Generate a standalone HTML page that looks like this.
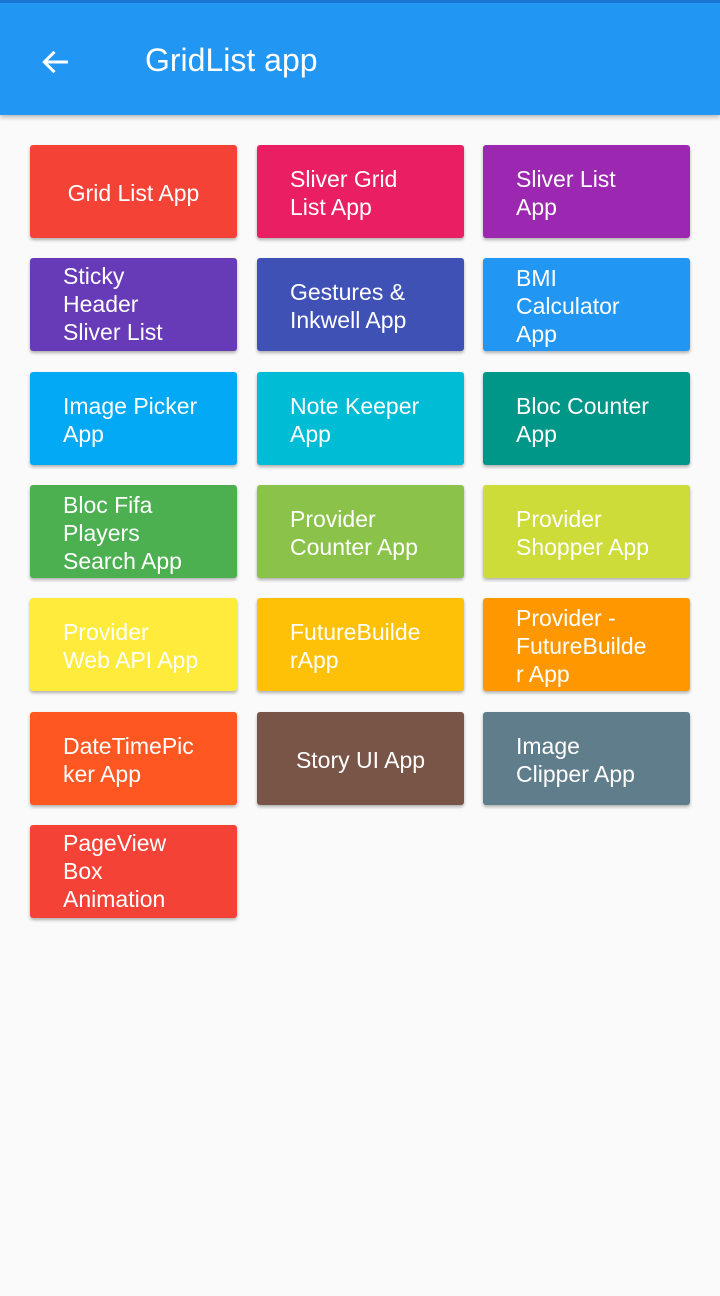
<!DOCTYPE html>
<html><head><style>
body{margin:0;width:720px;height:1296px;background:#fafafa;font-family:"Liberation Sans",sans-serif;position:relative;overflow:hidden}
.bar{position:absolute;left:0;top:0;width:720px;height:115px;background:#2196F3;box-shadow:0 2px 5px rgba(0,0,0,.3);border-top:3px solid #1976D2;box-sizing:border-box}
.title{position:absolute;left:145px;top:39px;color:#fff;font-size:32px}
.c{position:absolute;width:207px;height:93px;border-radius:3px;box-shadow:0 2px 3px rgba(0,0,0,.3);overflow:hidden;display:flex;align-items:center;justify-content:center;color:#fff;font-size:23px;line-height:28px}
.c div{max-height:93px;white-space:nowrap;width:141px;padding-top:3px}
.c div.s{width:auto}
</style></head><body>
<div class="bar">
<svg style="position:absolute;left:38px;top:41px" width="36" height="36" viewBox="0 0 24 24"><path d="M20 12H4.5M11 5.2L4.2 12 11 18.8" fill="none" stroke="#fff" stroke-width="2"/></svg>
<div class="title">GridList app</div>
</div>
<div class="c" style="left:30px;top:145px;background:#F44336"><div class="s">Grid List App</div></div>
<div class="c" style="left:257px;top:145px;background:#E91E63"><div>Sliver Grid<br>List App</div></div>
<div class="c" style="left:483px;top:145px;background:#9C27B0"><div>Sliver List<br>App</div></div>
<div class="c" style="left:30px;top:258px;background:#673AB7;align-items:flex-start"><div style="margin-top:1px">Sticky<br>Header<br>Sliver List<br>App</div></div>
<div class="c" style="left:257px;top:258px;background:#3F51B5"><div>Gestures &amp;<br>Inkwell App</div></div>
<div class="c" style="left:483px;top:258px;background:#2196F3"><div>BMI<br>Calculator<br>App</div></div>
<div class="c" style="left:30px;top:372px;background:#03A9F4"><div>Image Picker<br>App</div></div>
<div class="c" style="left:257px;top:372px;background:#00BCD4"><div>Note Keeper<br>App</div></div>
<div class="c" style="left:483px;top:372px;background:#009688"><div>Bloc Counter<br>App</div></div>
<div class="c" style="left:30px;top:485px;background:#4CAF50"><div>Bloc Fifa<br>Players<br>Search App</div></div>
<div class="c" style="left:257px;top:485px;background:#8BC34A"><div>Provider<br>Counter App</div></div>
<div class="c" style="left:483px;top:485px;background:#CDDC39"><div>Provider<br>Shopper App</div></div>
<div class="c" style="left:30px;top:598px;background:#FFEB3B"><div>Provider<br>Web API App</div></div>
<div class="c" style="left:257px;top:598px;background:#FFC107"><div>FutureBuilde<br>rApp</div></div>
<div class="c" style="left:483px;top:598px;background:#FF9800"><div>Provider -<br>FutureBuilde<br>r App</div></div>
<div class="c" style="left:30px;top:712px;background:#FF5722"><div>DateTimePic<br>ker App</div></div>
<div class="c" style="left:257px;top:712px;background:#795548"><div class="s">Story UI App</div></div>
<div class="c" style="left:483px;top:712px;background:#607D8B"><div>Image<br>Clipper App</div></div>
<div class="c" style="left:30px;top:825px;background:#F44336;align-items:flex-start"><div style="margin-top:1px">PageView<br>Box<br>Animation<br>App</div></div>
</body></html>
